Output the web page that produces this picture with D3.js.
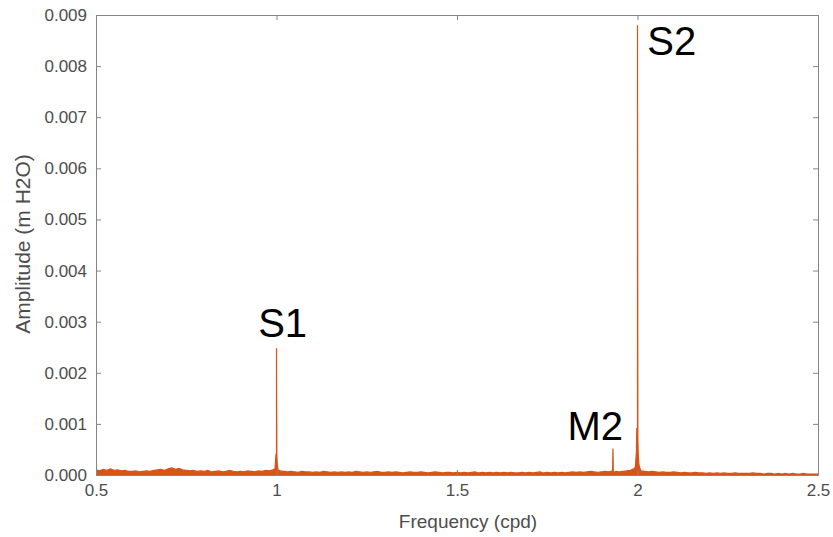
<!DOCTYPE html>
<html>
<head>
<meta charset="utf-8">
<script src="https://cdn.jsdelivr.net/npm/d3@7"></script>
<style>
  body { margin: 0; background: #fff; }
  svg { font-family: "Liberation Sans", Arial, sans-serif; }
  .axis path, .axis line { stroke: #858585; }
  .axis text { fill: #4d4d4d; font-size: 17px; }
  .axis-title { fill: #4d4d4d; }
  .peak-label { fill: #000; font-size: 40px; }
</style>
</head>
<body>
<svg width="833" height="537"></svg>
<script>
// Axis ticks
const xTicks = [0.5, 1, 1.5, 2, 2.5];
const xTickLabels = ["0.5", "1", "1.5", "2", "2.5"];
const yTicks = [0, 0.001, 0.002, 0.003, 0.004, 0.005, 0.006, 0.007, 0.008, 0.009];

// Background spectrum, one value every 0.01 cpd from 0.5 to 2.5 (units of 1e-5 m H2O)
const noiseStart = 0.5;
const noiseStep = 0.01;
const noiseAmp = [
  10, 8, 11, 9, 12, 9, 10, 8, 9, 7,
  7, 8, 6, 7, 8, 7, 9, 10, 11, 9,
  12, 14, 11, 13, 10, 9, 8, 9, 7, 8,
  7, 9, 6, 7, 8, 6, 7, 9, 7, 6,
  7, 6, 8, 7, 6, 8, 7, 9, 8, 10,
  9, 8, 7, 6, 7, 6, 5, 7, 6, 6,
  5, 6, 5, 7, 6, 5, 6, 5, 6, 5,
  6, 5, 7, 6, 5, 6, 5, 6, 7, 5,
  5, 6, 5, 6, 5, 4, 5, 6, 5, 5,
  6, 5, 4, 5, 6, 5, 4, 5, 5, 4,
  5, 4, 5, 4, 5, 6, 4, 5, 4, 5,
  4, 5, 4, 5, 4, 5, 4, 4, 5, 4,
  5, 4, 5, 6, 4, 5, 4, 5, 4, 5,
  4, 5, 6, 5, 6, 5, 6, 7, 6, 5,
  6, 7, 6, 8, 7, 6, 7, 8, 9, 12,
  10, 8, 7, 6, 7, 6, 5, 6, 5, 5,
  6, 5, 4, 5, 4, 4, 5, 4, 4, 3,
  4, 3, 4, 3, 4, 3, 3, 4, 3, 3,
  3, 3, 4, 3, 3, 2, 3, 3, 2, 3,
  2, 3, 2, 3, 2, 2, 3, 2, 2, 2,
  2
];

// Tidal peaks (cpd, m H2O)
const peakFreq = [0.996, 0.998, 0.999, 1.000, 1.001, 1.002, 1.004,
                  1.931, 1.932, 1.933,
                  1.994, 1.997, 1.998, 1.999, 2.000, 2.001, 2.002, 2.004, 2.007];
const peakAmp = [0.00012, 0.00035, 0.00042, 0.00248, 0.00040, 0.00022, 0.00010,
                 0.00005, 0.00052, 0.00005,
                 0.00015, 0.00045, 0.00092, 0.00060, 0.00880, 0.00070, 0.00040, 0.00020, 0.00012];

// Annotations
const labels = ["S1", "M2", "S2"];
const labelFreq = [1.017, 1.96, 2.027];
const labelAmp = [0.0027, 0.000685, 0.00822];
const labelAnchor = ["middle", "end", "start"];

const svg = d3.select("svg");
const W = 833, H = 537;
const margin = { top: 15, right: 15, bottom: 62, left: 96 };
const width = W - margin.left - margin.right;
const height = H - margin.top - margin.bottom;
const color = "#d95319";

const xScale = d3.scaleLinear().domain([0.5, 2.5]).range([0, width]);
const yScale = d3.scaleLinear().domain([0, 0.009]).range([height, 0]);

const g = svg.append("g")
  .attr("transform", "translate(" + margin.left + "," + margin.top + ")");

// Merge the spectrum points
const points = noiseAmp.map(function (a, i) {
  return [noiseStart + i * noiseStep, a * 1e-5];
});
peakFreq.forEach(function (f, i) {
  points.push([f, peakAmp[i]]);
});
points.sort(function (a, b) { return a[0] - b[0]; });

g.append("clipPath").attr("id", "clip")
  .append("rect").attr("width", width).attr("height", height);

// Filled band + line
const area = d3.area()
  .x(function (d) { return xScale(d[0]); })
  .y0(height)
  .y1(function (d) { return yScale(d[1]); });
const line = d3.line()
  .x(function (d) { return xScale(d[0]); })
  .y(function (d) { return yScale(d[1]); });

g.append("path")
  .datum(points)
  .attr("clip-path", "url(#clip)")
  .attr("fill", color)
  .attr("d", area);
g.append("path")
  .datum(points)
  .attr("clip-path", "url(#clip)")
  .attr("fill", "none")
  .attr("stroke", color)
  .attr("stroke-width", 1.2)
  .attr("d", line);

// Axes (box with inward ticks)
g.append("g")
  .attr("class", "axis")
  .attr("transform", "translate(0," + height + ")")
  .call(d3.axisBottom(xScale).tickValues(xTicks)
    .tickFormat(function (d, i) { return xTickLabels[i]; })
    .tickSize(-5).tickSizeOuter(0).tickPadding(9));
g.append("g")
  .attr("class", "axis")
  .call(d3.axisTop(xScale).tickValues(xTicks).tickFormat("")
    .tickSize(-5).tickSizeOuter(0));
g.append("g")
  .attr("class", "axis")
  .call(d3.axisLeft(yScale).tickValues(yTicks).tickFormat(d3.format(".3f"))
    .tickSize(-5).tickSizeOuter(0).tickPadding(9));
g.append("g")
  .attr("class", "axis")
  .attr("transform", "translate(" + width + ",0)")
  .call(d3.axisRight(yScale).tickValues(yTicks).tickFormat("")
    .tickSize(-5).tickSizeOuter(0));

// Peak labels
labels.forEach(function (t, i) {
  g.append("text")
    .attr("class", "peak-label")
    .attr("x", xScale(labelFreq[i]))
    .attr("y", yScale(labelAmp[i]))
    .attr("text-anchor", labelAnchor[i])
    .text(t);
});

// Axis titles
svg.append("text")
  .attr("class", "axis-title")
  .attr("x", 468)
  .attr("y", 528)
  .attr("text-anchor", "middle")
  .style("font-size", "19px")
  .text("Frequency (cpd)");
svg.append("text")
  .attr("class", "axis-title")
  .attr("text-anchor", "middle")
  .attr("transform", "translate(30,244)rotate(-90)")
  .style("font-size", "21px")
  .text("Amplitude (m H2O)");
</script>
</body>
</html>
